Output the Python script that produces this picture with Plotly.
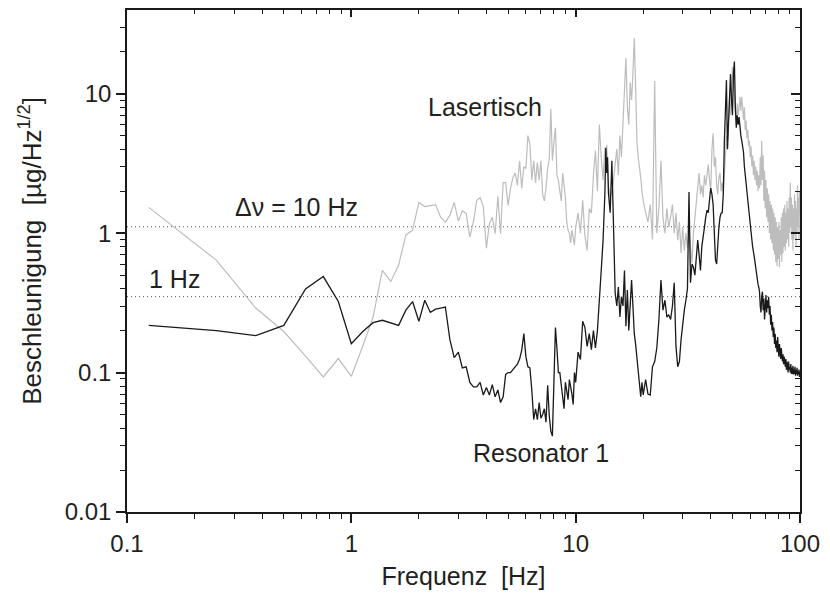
import math
import plotly.graph_objects as go

# ---------------- data ----------------
FREQ_A = [0.125, 0.25, 0.375, 0.5, 0.625, 0.75, 0.875, 1.0, 1.125, 1.25,
          1.375, 1.5, 1.625, 1.75, 1.875, 2.0, 2.125, 2.25, 2.375, 2.5,
          2.625, 2.75, 2.875, 3.0, 3.125, 3.25, 3.375, 3.5, 3.625, 3.75,
          3.875, 4.0, 4.125, 4.25, 4.375, 4.5, 4.625, 4.75, 4.875, 5.0,
          5.125, 5.25, 5.375, 5.5, 5.625, 5.75, 5.875, 6.0, 6.125, 6.25,
          6.375, 6.5, 6.625, 6.75, 6.875, 7.0, 7.125, 7.25, 7.375, 7.5,
          7.625, 7.75, 7.875, 8.0, 8.125, 8.25, 8.375, 8.5, 8.625, 8.75,
          8.875, 9.0, 9.125, 9.25, 9.375, 9.5, 9.625, 9.75, 9.875, 10.0]
FREQ_B = [10.25, 10.5, 10.75, 11.0, 11.25, 11.5, 11.75, 12.0, 12.25, 12.5,
          12.75, 13.0, 13.25, 13.5, 13.625, 13.75, 13.875, 14.0, 14.25, 14.5,
          14.75, 15.0, 15.25, 15.5, 15.75, 16.0, 16.25, 16.5, 16.75, 17.0,
          17.25, 17.5, 17.75, 18.0, 18.25, 18.5, 18.75, 19.0, 19.25, 19.5,
          19.75, 20.0]
FREQ_C = [20.5, 21, 21.5, 22, 22.5, 23, 23.5, 24, 24.5, 25,
          25.5, 26, 26.5, 27, 27.5, 28, 28.5, 29, 29.5, 30,
          30.5, 31, 31.5, 32, 32.5, 33, 33.5, 34, 34.5, 35,
          35.5, 36, 36.5, 37, 37.5, 38, 38.5, 39, 39.5, 40,
          40.5, 41, 41.5, 42, 42.5, 43, 43.5, 44, 44.5, 45,
          45.5, 46, 46.5, 47, 47.5, 48, 48.5, 49, 49.5, 50,
          50.5, 51, 51.5, 52, 52.5, 53, 53.5, 54, 54.5, 55,
          55.5, 56, 56.5, 57, 57.5, 58, 58.5, 59, 59.5, 60,
          60.5, 61, 61.5, 62, 62.5, 63, 63.5, 64, 64.5, 65,
          65.5, 66, 66.5, 67, 67.5, 68, 68.5, 69, 69.5, 70,
          70.5, 71, 71.5, 72, 72.5, 73, 73.5, 74, 74.5, 75,
          75.5, 76, 76.5, 77, 77.5, 78, 78.5, 79, 79.5, 80,
          80.5, 81, 81.5, 82, 82.5, 83, 83.5, 84, 84.5, 85,
          85.5, 86, 86.5, 87, 87.5, 88, 88.5, 89, 89.5, 90,
          90.5, 91, 91.5, 92, 92.5, 93, 93.5, 94, 94.5, 95,
          95.5, 96, 96.5, 97, 97.5, 98, 98.5, 99, 99.5, 100]

RESONATOR_A = [0.218, 0.20, 0.184, 0.218, 0.398, 0.488, 0.323, 0.161, 0.197, 0.228,
               0.237, 0.228, 0.218, 0.28, 0.323, 0.233, 0.33, 0.27, 0.285, 0.29,
               0.295, 0.172, 0.128, 0.14, 0.108, 0.11, 0.085, 0.079, 0.079, 0.085,
               0.069, 0.078, 0.069, 0.082, 0.067, 0.075, 0.061, 0.067, 0.097, 0.1,
               0.1, 0.105, 0.11, 0.115, 0.125, 0.145, 0.19, 0.13, 0.11, 0.108,
               0.075, 0.046, 0.055, 0.046, 0.061, 0.047, 0.05, 0.055, 0.044, 0.081,
               0.049, 0.038, 0.035, 0.085, 0.21, 0.15, 0.1, 0.1, 0.079, 0.065,
               0.055, 0.085, 0.075, 0.064, 0.089, 0.08, 0.07, 0.059, 0.1, 0.085]
RESONATOR_B = [0.14, 0.124, 0.233, 0.21, 0.154, 0.19, 0.146, 0.2, 0.15, 0.2,
               0.37, 0.54, 0.89, 1.94, 4.1, 2.7, 3.5, 1.94, 1.4, 3.3,
               1.11, 0.37, 0.3, 0.41, 0.25, 0.35, 0.3, 0.54, 0.215, 0.39,
               0.2, 0.3, 0.46, 0.3, 0.19, 0.16, 0.124, 0.1, 0.079, 0.067,
               0.085, 0.069]
RESONATOR_C = [0.089, 0.07, 0.069, 0.11, 0.12, 0.15, 0.24, 0.46, 0.28, 0.33,
               0.25, 0.26, 0.24, 0.3, 0.44, 0.154, 0.11, 0.12, 0.172, 0.23,
               0.28, 0.33, 0.4, 1.97, 0.44, 0.6, 0.57, 0.5, 0.7, 0.89,
               0.7, 0.54, 0.8, 0.99, 1.1, 1.3, 1.46, 1.4, 1.7, 2.1,
               1.9, 1.6, 1.0, 0.64, 0.6, 0.9, 1.1, 1.3, 1.39, 1.4,
               1.9, 4.5, 8.0, 12.5, 4.0, 6.0, 10.0, 13.8, 9.0, 7.0,
               14.0, 17.0, 8.0, 5.7, 7.0, 6.0, 6.8, 5.5, 5.0, 4.6,
               4.3, 3.8, 3.0, 2.6, 2.1, 1.9, 1.6, 1.4, 1.3, 1.1,
               0.95, 0.9, 0.8, 0.75, 0.68, 0.62, 0.55, 0.52, 0.46, 0.43,
               0.41, 0.38, 0.3, 0.27, 0.35, 0.38, 0.28, 0.34, 0.24, 0.31,
               0.36, 0.27, 0.33, 0.29, 0.35, 0.26, 0.3, 0.22, 0.26, 0.2,
               0.23, 0.18, 0.21, 0.16, 0.19, 0.15, 0.17, 0.14, 0.18, 0.15,
               0.13, 0.16, 0.14, 0.125, 0.15, 0.13, 0.12, 0.135, 0.115, 0.13,
               0.12, 0.11, 0.125, 0.105, 0.12, 0.11, 0.1, 0.12, 0.105, 0.11,
               0.1, 0.115, 0.098, 0.108, 0.1, 0.112, 0.097, 0.105, 0.1, 0.11,
               0.095, 0.104, 0.098, 0.108, 0.095, 0.102, 0.097, 0.105, 0.093, 0.1]

LASERTISCH_A = [1.53, 0.64, 0.29, 0.197, 0.131, 0.093, 0.126, 0.094, 0.155, 0.25,
                0.54, 0.45, 0.59, 0.97, 1.05, 1.66, 1.55, 1.58, 1.6, 1.3,
                1.2, 1.34, 1.66, 1.22, 1.45, 1.38, 0.94, 1.2, 1.72, 1.8,
                1.55, 0.78, 1.17, 1.3, 0.99, 1.84, 0.99, 2.3, 2.3, 1.58,
                2.1, 2.5, 2.7, 2.2, 3.3, 2.1, 3.0, 2.9, 5.0, 4.4,
                2.4, 3.3, 2.3, 3.2, 2.4, 3.3, 1.9, 1.7, 2.1, 2.9,
                3.4, 7.8, 3.3, 4.5, 5.7, 2.6, 2.4, 2.0, 1.7, 2.7,
                2.1, 1.8, 1.2, 1.05, 1.0, 0.85, 1.05, 0.9, 0.82, 1.1]
LASERTISCH_B = [1.39, 1.0, 1.72, 0.95, 0.75, 1.5, 1.39, 2.6, 3.9, 2.0,
                6.0, 3.5, 2.4, 4.1, 3.0, 4.3, 2.6, 2.2, 1.8, 2.0,
                2.4, 3.0, 4.0, 2.6, 5.0, 3.5, 6.0, 9.0, 18.0, 8.0,
                6.0, 12.0, 9.0, 14.0, 25.0, 11.5, 4.5, 3.5, 3.0, 2.5,
                2.0, 1.7]
LASERTISCH_C = [1.4, 1.2, 1.6, 0.9, 12.3, 1.0, 1.5, 3.3, 1.3, 1.0,
                1.5, 1.1, 1.3, 1.6, 1.0, 1.4, 0.89, 1.2, 0.72, 1.1,
                0.75, 1.0, 0.78, 1.05, 0.8, 0.61, 1.0, 1.3, 1.5, 2.2,
                2.7, 1.9, 2.2, 1.8, 2.6, 2.2, 2.8, 3.1, 2.4, 2.0,
                4.0, 5.2, 3.0, 3.5, 2.2, 1.9, 2.5, 2.7, 2.0, 2.3,
                1.94, 2.5, 3.5, 5.0, 4.0, 6.5, 9.0, 7.0, 11.0, 15.5,
                12.0, 9.0, 7.0, 6.0, 8.5, 7.0, 8.0, 9.5, 7.5, 9.5,
                8.0, 6.5, 8.0, 5.5, 6.4, 4.8, 5.5, 4.2, 4.6, 3.5,
                4.2, 3.0, 3.6, 2.6, 3.3, 2.4, 3.0, 2.2, 2.8, 2.0,
                2.6, 2.1, 3.5, 2.2, 4.6, 2.4, 3.6, 1.7, 2.8, 1.5,
                2.4, 1.3, 2.1, 1.2, 1.9, 1.0, 1.7, 0.9, 1.6, 0.85,
                1.5, 0.75, 1.4, 0.7, 1.3, 0.62, 1.2, 0.58, 1.1, 0.65,
                1.2, 0.57, 1.05, 0.7, 1.3, 0.62, 1.4, 0.72, 1.5, 0.8,
                1.6, 0.75, 1.4, 0.85, 1.7, 0.9, 1.5, 0.8, 1.8, 1.0,
                2.3, 1.1, 1.8, 0.9, 1.6, 0.75, 1.5, 0.9, 1.9, 1.0,
                1.7, 0.8, 1.5, 1.0, 2.2, 1.1, 1.8, 0.9, 2.0, 1.4]

FREQ = FREQ_A + FREQ_B + FREQ_C
RESONATOR = RESONATOR_A + RESONATOR_B + RESONATOR_C
LASERTISCH = LASERTISCH_A + LASERTISCH_B + LASERTISCH_C

REF_LEVELS = [1.11, 0.35]          # Δν = 10 Hz, 1 Hz
X_RANGE = [0.1, 100]
Y_RANGE = [0.01, 39.8]

X_TICKS = [0.1, 1, 10, 100]
X_TICKTEXT = ["0.1", "1", "10", "100"]
Y_TICKS = [0.01, 0.1, 1, 10]
Y_TICKTEXT = ["0.01", "0.1", "1", "10"]
X_MINOR = [m * d for d in (0.1, 1, 10) for m in range(2, 10)]
Y_MINOR = [m * d for d in (0.01, 0.1, 1, 10) for m in range(2, 10) if m * d < 39.8]

LABELS = [("Lasertisch", 3.93, 8.0), ("Δν = 10 Hz", 0.572, 1.53),
          ("1 Hz", 0.163, 0.468), ("Resonator 1", 7.01, 0.0265)]
X_TITLE = "Frequenz  [Hz]"
Y_TITLE = "Beschleunigung  [µg/Hz<sup>1/2</sup>]"

# ---------------- figure ----------------
FONT = "Liberation Sans, Arial, sans-serif"
TXT = "#231f20"
fig = go.Figure()

for lvl in REF_LEVELS:
    fig.add_trace(go.Scatter(x=X_RANGE, y=[lvl, lvl], mode="lines",
                             line=dict(color="#555555", width=1, dash="1px,3px"),
                             showlegend=False, hoverinfo="skip"))

fig.add_trace(go.Scatter(x=FREQ, y=LASERTISCH, mode="lines", name="Lasertisch",
                         line=dict(color="#bdbdbd", width=1.2), showlegend=False))
fig.add_trace(go.Scatter(x=FREQ, y=RESONATOR, mode="lines", name="Resonator 1",
                         line=dict(color="#1a1a1a", width=1.3), showlegend=False))
# invisible trace to activate the mirrored (top/right) axes
fig.add_trace(go.Scatter(x=X_RANGE, y=[1, 1], xaxis="x2", yaxis="y2", mode="lines",
                         line=dict(width=0), showlegend=False, hoverinfo="skip"))

xr = [math.log10(v) for v in X_RANGE]
yr = [math.log10(v) for v in Y_RANGE]

axis_common = dict(type="log", showgrid=False, zeroline=False, showline=True,
                   linecolor="#1a1a1a", linewidth=1.5, tickcolor="#1a1a1a",
                   tickwidth=1.5, tickfont=dict(family=FONT, size=24, color=TXT))

fig.update_layout(
    width=830, height=601,
    margin=dict(l=127, r=24, t=10, b=89),
    paper_bgcolor="white", plot_bgcolor="white",
    xaxis=dict(axis_common, range=xr, tickmode="array", tickvals=X_TICKS,
               ticktext=X_TICKTEXT, ticks="outside", ticklen=9,
               minor=dict(tickmode="array", tickvals=X_MINOR, ticks="outside",
                          ticklen=5, tickwidth=1.2, tickcolor="#1a1a1a"),
               title=dict(text=X_TITLE, standoff=12,
                          font=dict(family=FONT, size=25, color=TXT))),
    yaxis=dict(axis_common, range=yr, tickmode="array", tickvals=Y_TICKS,
               ticktext=Y_TICKTEXT, ticks="outside", ticklen=9,
               minor=dict(tickmode="array", tickvals=Y_MINOR, ticks="outside",
                          ticklen=5, tickwidth=1.2, tickcolor="#1a1a1a")),
    xaxis2=dict(axis_common, range=xr, overlaying="x", side="top",
                tickmode="array", tickvals=X_TICKS, ticks="inside", ticklen=7,
                showticklabels=False,
                minor=dict(tickmode="array", tickvals=X_MINOR, ticks="inside",
                           ticklen=4, tickwidth=1.2, tickcolor="#1a1a1a")),
    yaxis2=dict(axis_common, range=yr, overlaying="y", side="right",
                tickmode="array", tickvals=Y_TICKS, ticks="inside", ticklen=9,
                showticklabels=False,
                minor=dict(tickmode="array", tickvals=Y_MINOR, ticks="inside",
                           ticklen=5, tickwidth=1.2, tickcolor="#1a1a1a")),
)

# y-axis title placed as rotated text left of the tick labels
fig.add_annotation(xref="paper", yref="paper", x=-0.143, y=0.52, text=Y_TITLE,
                   textangle=-90, showarrow=False, xanchor="center", yanchor="middle",
                   font=dict(family=FONT, size=26, color=TXT))

for text, fx, fy in LABELS:
    fig.add_annotation(x=math.log10(fx), y=math.log10(fy), text=text,
                       showarrow=False, xanchor="center", yanchor="middle",
                       font=dict(family=FONT, size=25, color=TXT))

fig.write_html("out.html")
